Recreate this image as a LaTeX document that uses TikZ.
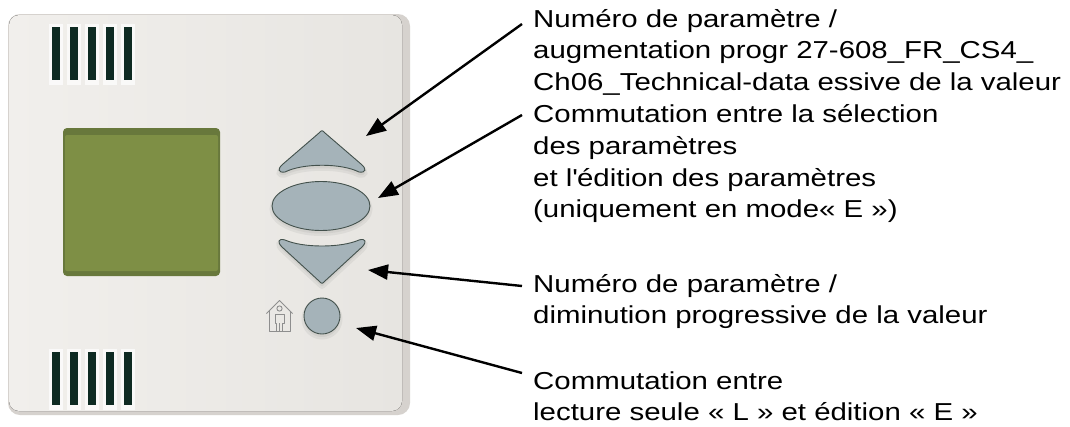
\documentclass[tikz,border=0pt]{standalone}
\usepackage{fontspec}
\setmainfont{Liberation Sans}[FakeStretch=1.2]
\usetikzlibrary{arrows.meta}

\definecolor{platelight}{HTML}{F1EFEC}
\definecolor{platemid}{HTML}{E7E5E1}
\definecolor{platedge}{HTML}{D6D2CE}
\definecolor{slotdark}{HTML}{0E2A22}
\definecolor{lcd}{HTML}{7E8F45}
\definecolor{lcdedge}{HTML}{68783C}
\definecolor{btnfill}{HTML}{A5B3B9}
\definecolor{btnedge}{HTML}{43514C}
\definecolor{housegray}{HTML}{8E8E8E}

% outlines of the keys, y grows downwards
\newcommand\upkeypath{(319,133) .. controls (322,130) .. (325,133) -- (361,164)
  .. controls (367,169) and (366,173) .. (359,172)
  .. controls (341,163) and (303,163) .. (285,172)
  .. controls (278,173) and (277,169) .. (283,164) -- cycle}
\newcommand\downkeypath{(285,240) .. controls (303,248) and (341,248) .. (359,240)
  .. controls (366,238) and (367,242) .. (362,247) -- (325,281)
  .. controls (322,284) .. (319,281) -- (282,247)
  .. controls (277,242) and (278,238) .. (285,240) -- cycle}

\begin{document}
\begin{tikzpicture}[x=1pt,y=-1pt,
  btn/.style={fill=btnfill, draw=btnedge, line width=0.9pt},
  keyshadow/.style={fill=black!55, draw=black!55, line width=5pt, opacity=0.10},
  callout/.style={align=left, inner sep=0pt, anchor=base west,
    font=\fontsize{24.5}{31.8}\selectfont},
  pointer/.style={line width=2.4pt, -{Triangle[length=20pt,width=15pt]}},
]
\useasboundingbox (0,0) rectangle (1070,426);
\fill[white] (0,0) rectangle (1070,426);

% housing
\fill[platedge, rounded corners=12pt] (8,14) rectangle (410,415);
\fill[left color=platelight, right color=platemid, rounded corners=10pt]
  (9,15) rectangle (402,411);

% ventilation slots
\foreach \y in {27,352}{
  \foreach \x in {52,70,88,106,124}{
    \fill[white, opacity=0.7] (\x-3,\y-3) rectangle (\x+11,\y+58);
    \fill[slotdark] (\x,\y) rectangle (\x+8,\y+53);
  }
}

% display
\fill[lcdedge, rounded corners=4pt] (63,128) rectangle (220,276);
\fill[lcd, rounded corners=2pt] (65,135) rectangle (218,271);

% keys with soft shadows
\path[keyshadow, shift={(0,3)}] \upkeypath;
\path[keyshadow] (321,209) ellipse [x radius=49pt, y radius=24.5pt];
\path[keyshadow, shift={(0,3)}] \downkeypath;
\path[keyshadow] (322,319) circle [radius=18pt];

\path[btn] \upkeypath;
\path[btn] (321,206) ellipse [x radius=49pt, y radius=24.5pt];
\path[btn] \downkeypath;
\path[btn] (322,316) circle [radius=18pt];

% presence symbol
\begin{scope}[draw=housegray, line width=0.9pt, line join=round]
  \draw (266.5,313.5) -- (279.5,300.5) -- (292.5,313.5);
  \draw (269,311) -- (269,331.5) -- (290.5,331.5) -- (290.5,311);
  \draw (279.5,308.5) circle [radius=2.6pt];
  \draw (276.5,331.5) -- (276.5,323) -- (275,323) -- (275,314) -- (284,314)
        -- (284,323) -- (282.5,323) -- (282.5,331.5);
  \draw (279.5,323) -- (279.5,331.5);
\end{scope}

% captions (anchored at the baseline of their last line)
\node[callout] (lab1) at (533,90.6)
  {Numéro de paramètre /\\augmentation progr 27-608\_FR\_CS4\_\\Ch06\_Technical-data essive de la valeur};
\node[callout] (lab2) at (533,217.8)
  {Commutation entre la sélection\\des paramètres\\et l\textquotesingle édition des paramètres\\(uniquement en mode« E »)};
\node[callout] (lab3) at (533,323.8)
  {Numéro de paramètre /\\diminution progressive de la valeur};
\node[callout] (lab4) at (533,420.8)
  {Commutation entre\\lecture seule « L » et édition « E »};

% leader arrows
\coordinate (s1) at (522,24);  \coordinate (t1) at (366,136);
\coordinate (s2) at (522,115); \coordinate (t2) at (378,198);
\coordinate (s3) at (522,286); \coordinate (t3) at (368,270);
\coordinate (s4) at (522,373); \coordinate (t4) at (356,328);
\draw[pointer] (s1) -- (t1);
\draw[pointer] (s2) -- (t2);
\draw[pointer] (s3) -- (t3);
\draw[pointer] (s4) -- (t4);
\end{tikzpicture}
\end{document}
